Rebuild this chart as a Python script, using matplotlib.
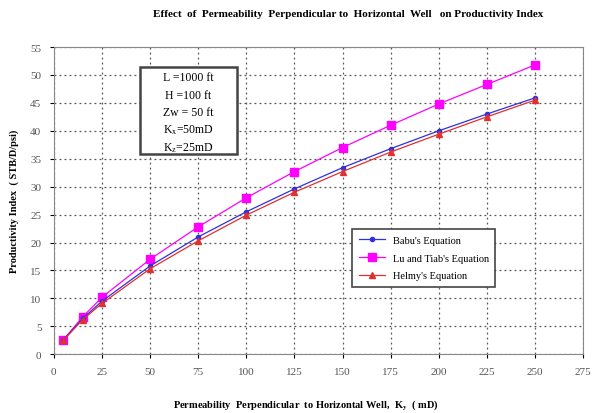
import matplotlib
matplotlib.use("Agg")
import matplotlib.pyplot as plt
from matplotlib.patches import Rectangle

kx = [5, 15, 25, 50, 75, 100, 125, 150, 175, 200, 225, 250]
babu = [2.6, 6.4, 9.5, 15.8, 21.0, 25.5, 29.6, 33.4, 36.8, 40.0, 43.0, 45.9]
lu_tiab = [2.6, 6.7, 10.2, 17.0, 22.8, 28.0, 32.7, 37.0, 41.0, 44.8, 48.3, 51.8]
helmy = [2.5, 6.2, 9.1, 15.3, 20.3, 24.9, 29.0, 32.7, 36.2, 39.4, 42.5, 45.5]
xticks = list(range(0, 276, 25))
yticks = list(range(0, 56, 5))
box_lines = ['L =1000 ft', 'H =100 ft', 'Zw = 50 ft', r'K$_\mathrm{x}$=50mD', r'K$_\mathrm{z}$=25mD']

plt.rcParams['font.family'] = ['Liberation Serif', 'DejaVu Serif']
plt.rcParams['mathtext.fontset'] = 'stix'

fig = plt.figure(figsize=(5.92, 4.14), dpi=100)
ax = fig.add_axes([0.091, 0.142, 0.894, 0.742])

ax.plot(kx, babu, color='#3030e0', marker='o', markersize=3, lw=0.9, label="Babu's Equation", zorder=3)
ax.plot(kx, lu_tiab, color='#ff00ff', marker='s', markersize=6, lw=0.9, label="Lu and Tiab's Equation", zorder=2)
ax.plot(kx, helmy, color='#e03030', marker='^', markersize=4, lw=0.9, label="Helmy's Equation", zorder=4)

ax.set_xlim(0, 275)
ax.set_ylim(0, 55)
ax.set_xticks(xticks)
ax.set_yticks(yticks)
ax.grid(True, color='#555555', linestyle=(0, (1.5, 2.5)), linewidth=0.9)
ax.tick_params(labelsize=8, labelcolor='#555555', length=3, direction='out', pad=6)
for s in ax.spines.values():
    s.set_color('#888888')

fig.text(0.588, 0.965, 'Effect  of  Permeability  Perpendicular to  Horizontal  Well   on Productivity Index',
         fontsize=8, fontweight='bold', ha='center', va='center')
fig.text(0.517, 0.022, r'Permeability  Perpendicular  to Horizontal Well,  K$_\mathbf{y}$  ( mD)',
         fontsize=7.5, fontweight='bold', ha='center', va='center')
ax.set_ylabel('Productivity Index  ( STB/D/psi)', fontsize=7.5, fontweight='bold', labelpad=8)

ax.add_patch(Rectangle((0.163, 0.651), 0.183, 0.284, transform=ax.transAxes, facecolor='white',
                       edgecolor='#444444', linewidth=1.8, zorder=5))
y0 = 0.902
dy = 0.057
for i, line in enumerate(box_lines):
    ax.text(0.2545, y0 - i * dy, line, transform=ax.transAxes, ha='center', va='center',
            fontsize=8.5, zorder=6)

leg = ax.legend(loc='upper left', bbox_to_anchor=(0.554, 0.423), fontsize=7.5, frameon=True,
                fancybox=False, edgecolor='#444444', borderpad=0.6, labelspacing=0.8,
                handlelength=2.5, framealpha=1)
leg.get_frame().set_linewidth(1.2)

fig.savefig('out.png', dpi=100)
